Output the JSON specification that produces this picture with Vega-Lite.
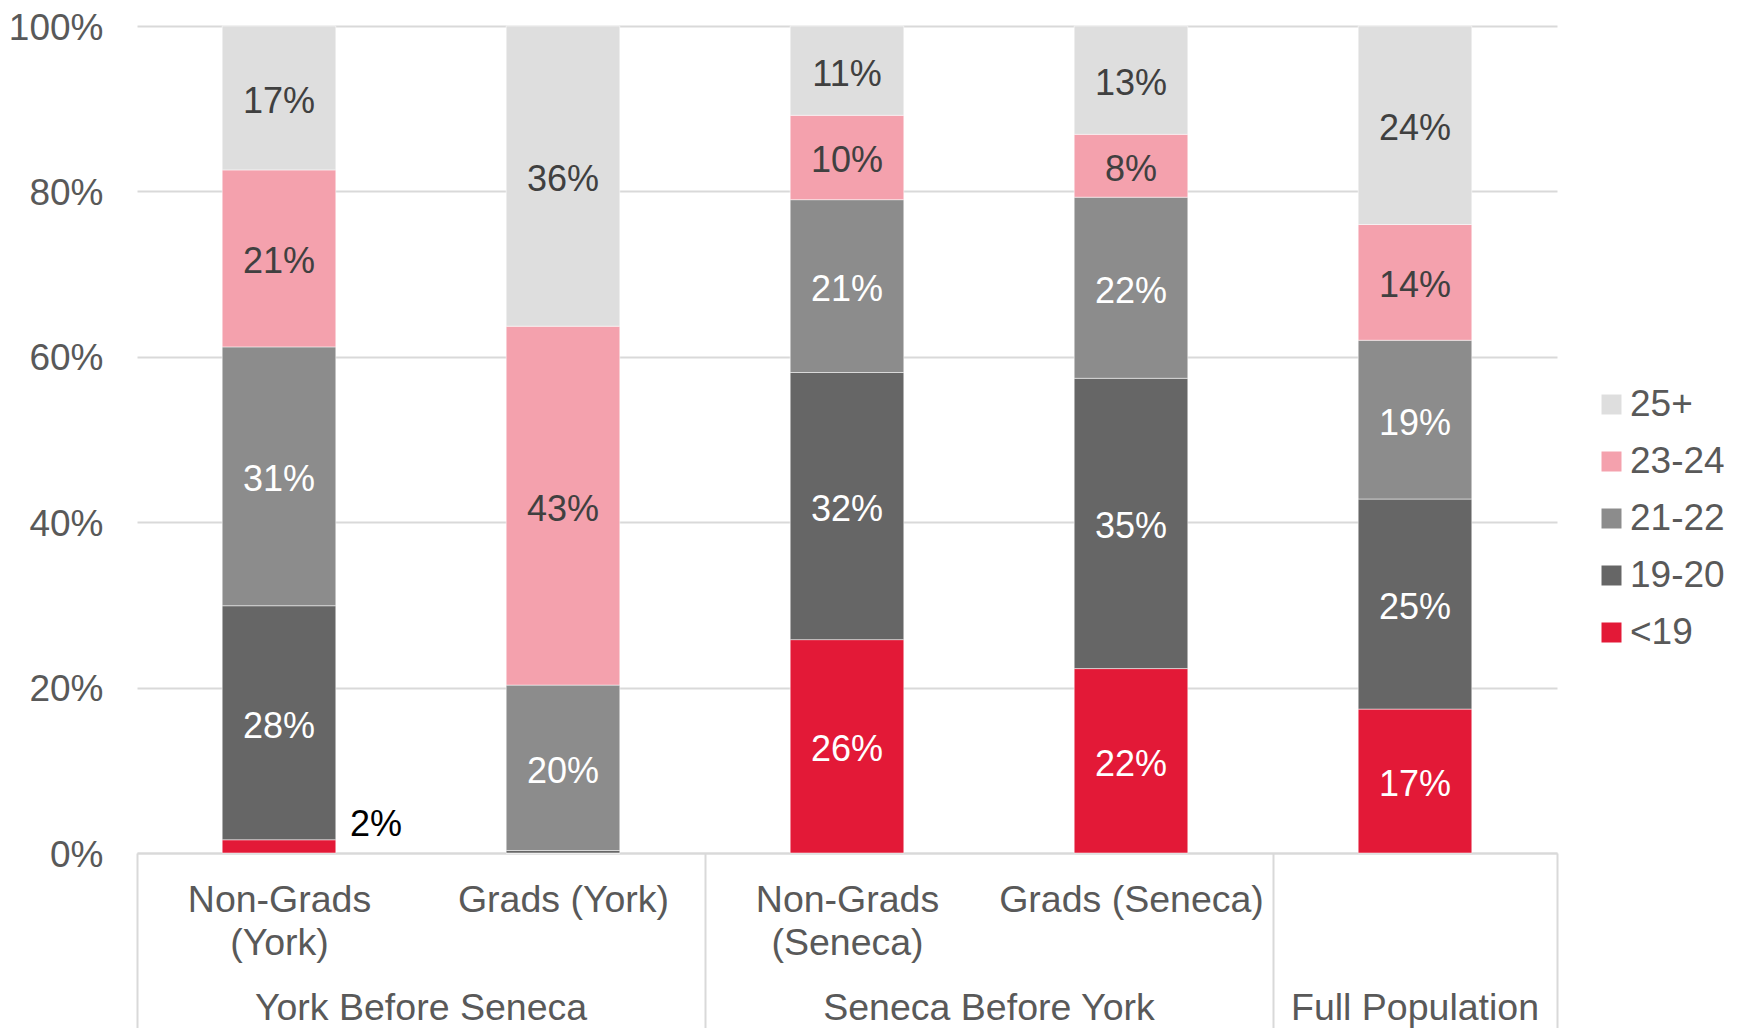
{
  "$schema": "https://vega.github.io/schema/vega-lite/v6.json",
  "width": 1420,
  "height": 827,
  "autosize": {"type": "none"},
  "padding": {"left": 137, "top": 26, "right": 187, "bottom": 175},
  "config": {"font": "Liberation Sans", "view": {"stroke": null}},
  "datasets": {
    "ages": [
      {"cat": "Non-Grads (York)", "age": "<19", "pct": 0.016},
      {"cat": "Non-Grads (York)", "age": "19-20", "pct": 0.283},
      {"cat": "Non-Grads (York)", "age": "21-22", "pct": 0.313},
      {"cat": "Non-Grads (York)", "age": "23-24", "pct": 0.214},
      {"cat": "Non-Grads (York)", "age": "25+", "pct": 0.174},
      {"cat": "Grads (York)", "age": "<19", "pct": 0.0},
      {"cat": "Grads (York)", "age": "19-20", "pct": 0.003},
      {"cat": "Grads (York)", "age": "21-22", "pct": 0.200},
      {"cat": "Grads (York)", "age": "23-24", "pct": 0.434},
      {"cat": "Grads (York)", "age": "25+", "pct": 0.363},
      {"cat": "Non-Grads (Seneca)", "age": "<19", "pct": 0.258},
      {"cat": "Non-Grads (Seneca)", "age": "19-20", "pct": 0.323},
      {"cat": "Non-Grads (Seneca)", "age": "21-22", "pct": 0.209},
      {"cat": "Non-Grads (Seneca)", "age": "23-24", "pct": 0.102},
      {"cat": "Non-Grads (Seneca)", "age": "25+", "pct": 0.108},
      {"cat": "Grads (Seneca)", "age": "<19", "pct": 0.223},
      {"cat": "Grads (Seneca)", "age": "19-20", "pct": 0.351},
      {"cat": "Grads (Seneca)", "age": "21-22", "pct": 0.219},
      {"cat": "Grads (Seneca)", "age": "23-24", "pct": 0.076},
      {"cat": "Grads (Seneca)", "age": "25+", "pct": 0.131},
      {"cat": "Full Population", "age": "<19", "pct": 0.174},
      {"cat": "Full Population", "age": "19-20", "pct": 0.254},
      {"cat": "Full Population", "age": "21-22", "pct": 0.192},
      {"cat": "Full Population", "age": "23-24", "pct": 0.140},
      {"cat": "Full Population", "age": "25+", "pct": 0.240}
    ],
    "groups": [
      {"group": "York Before Seneca", "cat": "Grads (York)"},
      {"group": "Seneca Before York", "cat": "Grads (Seneca)"},
      {"group": "Full Population", "cat": "Full Population"}
    ]
  },
  "layer": [
    {
      "data": {"name": "ages"},
      "transform": [
        {"calculate": "indexof(['<19','19-20','21-22','23-24','25+'], datum.age)", "as": "ord"},
        {"stack": "pct", "groupby": ["cat"], "sort": [{"field": "ord", "order": "ascending"}], "as": ["y0", "y1"]},
        {"calculate": "(datum.y0 + datum.y1) / 2", "as": "ymid"}
      ],
      "layer": [
        {
          "mark": {"type": "bar", "width": {"band": 0.4}, "stroke": "white", "strokeWidth": 1, "strokeOpacity": 0.5},
          "encoding": {
            "x": {
              "field": "cat", "type": "nominal",
              "scale": {"domain": ["Non-Grads (York)", "Grads (York)", "Non-Grads (Seneca)", "Grads (Seneca)", "Full Population"], "paddingInner": 0, "paddingOuter": 0},
              "axis": {
                "title": null, "labelAngle": 0, "labelFontSize": 37.5, "labelColor": "#595959",
                "labelLineHeight": 43, "labelPadding": -147, "labelBaseline": "top", "labelLimit": 0,
                "labelExpr": "datum.label == 'Non-Grads (York)' ? ['Non-Grads', '(York)'] : datum.label == 'Non-Grads (Seneca)' ? ['Non-Grads', '(Seneca)'] : datum.label == 'Full Population' ? '' : datum.label",
                "labelOverlap": false, "labelBound": false,
                "domainColor": "#D9D9D9", "domainWidth": 2,
                "tickBand": "extent", "tickSize": 175, "tickColor": "#D9D9D9", "tickWidth": 2,
                "tickOpacity": {"condition": {"test": "datum.value == 'Non-Grads (York)' || datum.value == 'Non-Grads (Seneca)'", "value": 0}, "value": 1},
                "grid": false
              }
            },
            "y": {
              "field": "y0", "type": "quantitative",
              "scale": {"domain": [0, 1], "nice": false},
              "axis": {
                "title": null, "values": [0, 0.2, 0.4, 0.6, 0.8, 1], "format": ".0%",
                "labelFontSize": 37, "labelColor": "#595959", "labelPadding": 34, "labelOffset": 2,
                "domain": false, "ticks": false, "gridColor": "#D9D9D9", "gridWidth": 2
              }
            },
            "y2": {"field": "y1"},
            "color": {
              "field": "age", "type": "nominal",
              "scale": {"domain": ["<19", "19-20", "21-22", "23-24", "25+"], "range": ["#E31937", "#666666", "#8C8C8C", "#F4A1AD", "#DEDEDE"]},
              "legend": {
                "title": null, "orient": "none", "legendX": 1456, "legendY": 360,
                "values": ["25+", "23-24", "21-22", "19-20", "<19"],
                "symbolType": "square", "symbolSize": 400, "symbolStrokeWidth": 0, "symbolOpacity": 1,
                "labelFontSize": 37, "labelColor": "#595959", "labelOffset": 0, "rowPadding": 19, "padding": 0
              }
            }
          }
        },
        {
          "mark": {"type": "text", "fontSize": 36, "baseline": "middle", "align": "center", "dy": 4},
          "encoding": {
            "x": {"field": "cat", "type": "nominal"},
            "y": {"field": "ymid", "type": "quantitative"},
            "text": {"condition": {"test": "datum.pct < 0.05", "value": ""}, "field": "pct", "type": "quantitative", "format": ".0%"},
            "color": {"condition": {"test": "datum.age == '23-24' || datum.age == '25+'", "value": "#404040"}, "value": "white"}
          }
        },
        {
          "transform": [{"filter": "datum.cat == 'Non-Grads (York)' && datum.age == '<19'"}],
          "mark": {"type": "text", "fontSize": 36, "baseline": "middle", "align": "left", "dx": 71, "dy": -21, "color": "black"},
          "encoding": {
            "x": {"field": "cat", "type": "nominal"},
            "y": {"field": "ymid", "type": "quantitative"},
            "text": {"field": "pct", "type": "quantitative", "format": ".0%"}
          }
        }
      ]
    },
    {
      "data": {"name": "groups"},
      "layer": [
        {
          "transform": [{"filter": "datum.group != 'Full Population'"}],
          "mark": {"type": "text", "fontSize": 37.5, "baseline": "middle", "align": "center", "dy": 156, "color": "#595959"},
          "encoding": {
            "x": {"field": "cat", "type": "nominal", "bandPosition": 0},
            "y": {"datum": 0, "type": "quantitative"},
            "text": {"field": "group", "type": "nominal"}
          }
        },
        {
          "transform": [{"filter": "datum.group == 'Full Population'"}],
          "mark": {"type": "text", "fontSize": 37.5, "baseline": "middle", "align": "center", "dy": 156, "color": "#595959"},
          "encoding": {
            "x": {"field": "cat", "type": "nominal", "bandPosition": 0.5},
            "y": {"datum": 0, "type": "quantitative"},
            "text": {"field": "group", "type": "nominal"}
          }
        }
      ]
    }
  ]
}
